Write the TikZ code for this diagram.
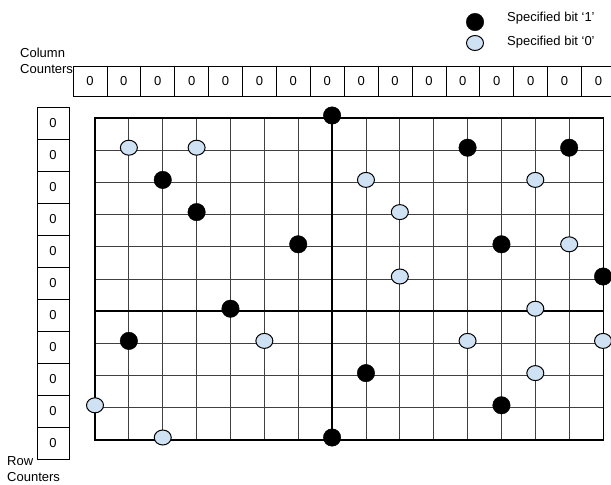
\documentclass[tikz,border=0pt]{standalone}
\usepackage{fontspec}
\setmainfont{Liberation Sans}
\usetikzlibrary{shapes.geometric}
\definecolor{zerofill}{HTML}{CFE2F3}
\begin{document}
\begin{tikzpicture}[x=1pt,y=-1pt,
  every node/.style={font=\fontsize{13}{15}\selectfont},
  cntcell/.style={draw,line width=0.8pt,inner sep=0pt},
  colcell/.style={cntcell,minimum width=33.9pt,minimum height=30pt},
  rowcell/.style={cntcell,minimum width=32pt,minimum height=32pt},
  gridline/.style={line width=0.9pt,black!75},
  midline/.style={line width=1.6pt,black},
  bitone/.style={circle,fill=black,draw=black,minimum size=17.5pt,inner sep=0pt},
  bitzero/.style={ellipse,fill=zerofill,draw=black,line width=1pt,
    minimum width=17pt,minimum height=15pt,inner sep=0pt},
  lbl/.style={anchor=west,inner sep=0pt}]
  \useasboundingbox (0,0) rectangle (611,485);
  \clip (0,0) rectangle (611,485);
  % Legend
  \node[bitone] (keyone) at (475,22) {};
  \node[bitzero] (keyzero) at (475,43) {};
  \node[lbl] (keyonetxt) at (507,18) {Specified bit ‘1’};
  \node[lbl] (keyzerotxt) at (507,42) {Specified bit ‘0’};
  % Labels
  \node[lbl] (collbl) at (20,53) {Column};
  \node[lbl] (collbl2) at (20,69) {Counters};
  \node[lbl] (rowlbl) at (7,461) {Row};
  \node[lbl] (rowlbl2) at (7,477) {Counters};
  % Column counters
  \foreach \k in {0,...,15}
    \node[colcell] (col\k) at (73+33.9*\k+16.95,81) {0};
  % Row counters
  \foreach \j in {0,...,10}
    \node[rowcell] (row\j) at (53,123+32*\j) {0};
  % Grid
  \begin{scope}[shift={(95,118)},x=33.87pt,y=-32.2pt]
    \foreach \i in {1,...,14}
      \draw[gridline] (\i,0) -- (\i,10);
    \foreach \j in {1,...,9}
      \draw[gridline] (0,\j) -- (15,\j);
    \draw[midline] (7,0) -- (7,10);
    \draw[midline] (0,6) -- (15,6);
    \draw[line width=1.1pt] (0,0) rectangle (15,10);
    % Specified bits
    \foreach \c/\r [count=\n] in {7/0,11/1,14/1,2/2,3/3,6/4,12/4,15/5,
        4/6,1/7,8/8,12/9,7/10}
      \node[bitone,yshift=2.5pt] (one\n) at (\c,\r) {};
    \foreach \c/\r [count=\n] in {1/1,3/1,8/2,13/2,9/3,14/4,9/5,13/6,
        5/7,11/7,15/7,13/8,0/9,2/10}
      \node[bitzero,yshift=2.5pt] (zero\n) at (\c,\r) {};
  \end{scope}
\end{tikzpicture}
\end{document}
